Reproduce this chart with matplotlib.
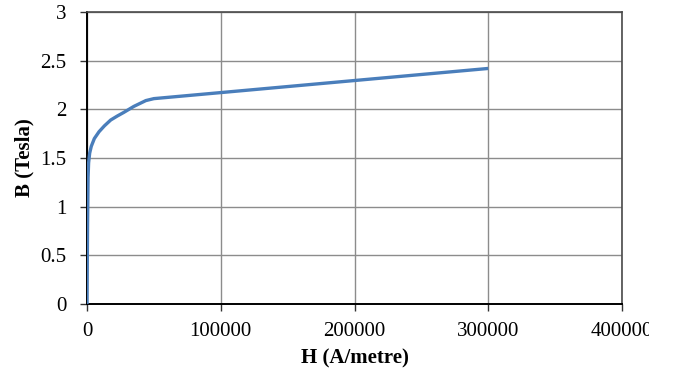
import matplotlib
matplotlib.use("Agg")
import matplotlib.pyplot as plt
from matplotlib.patches import Rectangle

# B-H magnetisation curve
field_h = [0, 400, 800, 1200, 2000, 3200, 5500, 9000, 13000, 17700,
           22500, 27700, 35000, 44000, 50000, 300000]
flux_b = [0, 0.80, 1.30, 1.45, 1.55, 1.62, 1.70, 1.77, 1.83, 1.89,
          1.93, 1.97, 2.03, 2.09, 2.11, 2.42]

x_ticks = [0, 100000, 200000, 300000, 400000]
y_ticks = [0, 0.5, 1, 1.5, 2, 2.5, 3]

plt.rcParams['font.family'] = ['Liberation Serif', 'DejaVu Serif']

fig = plt.figure(figsize=(6.73, 3.73), dpi=100)
ax = fig.add_axes([87 / 673, 1 - 304 / 373, 535 / 673, 292 / 373])

ax.plot(field_h, flux_b, color='#4A7EBB', lw=2.4, solid_capstyle='butt', zorder=3)

ax.set_xlim(0, 400000)
ax.set_ylim(0, 3)
ax.set_xticks(x_ticks)
ax.set_yticks(y_ticks)
ax.set_xticklabels([str(v) for v in x_ticks])
ax.set_yticklabels(['0', '0.5', '1', '1.5', '2', '2.5', '3'])
ax.grid(True, color='#8C8C8C', lw=1.0)
ax.set_axisbelow(True)

for side in ('left', 'bottom'):
    ax.spines[side].set_color('black')
    ax.spines[side].set_linewidth(1.4)
for side in ('top', 'right'):
    ax.spines[side].set_color('#4A4A4A')
    ax.spines[side].set_linewidth(1.2)

ax.tick_params(axis='both', direction='out', length=5, width=1.0,
               color='#333333', labelsize=15, pad=8)
ax.tick_params(axis='y', pad=10)

ax.set_xlabel('H (A/metre)', fontsize=15, fontweight='bold', labelpad=5)
ax.set_ylabel('B (Tesla)', fontsize=15, fontweight='bold', labelpad=4)

# blank strip at the right edge, over the tail of the last tick label
fig.add_artist(Rectangle((649 / 673, 0), 1 - 649 / 673, 0.2,
                         transform=fig.transFigure, facecolor='white',
                         edgecolor='none', zorder=10))

fig.savefig('out.png', dpi=100)
